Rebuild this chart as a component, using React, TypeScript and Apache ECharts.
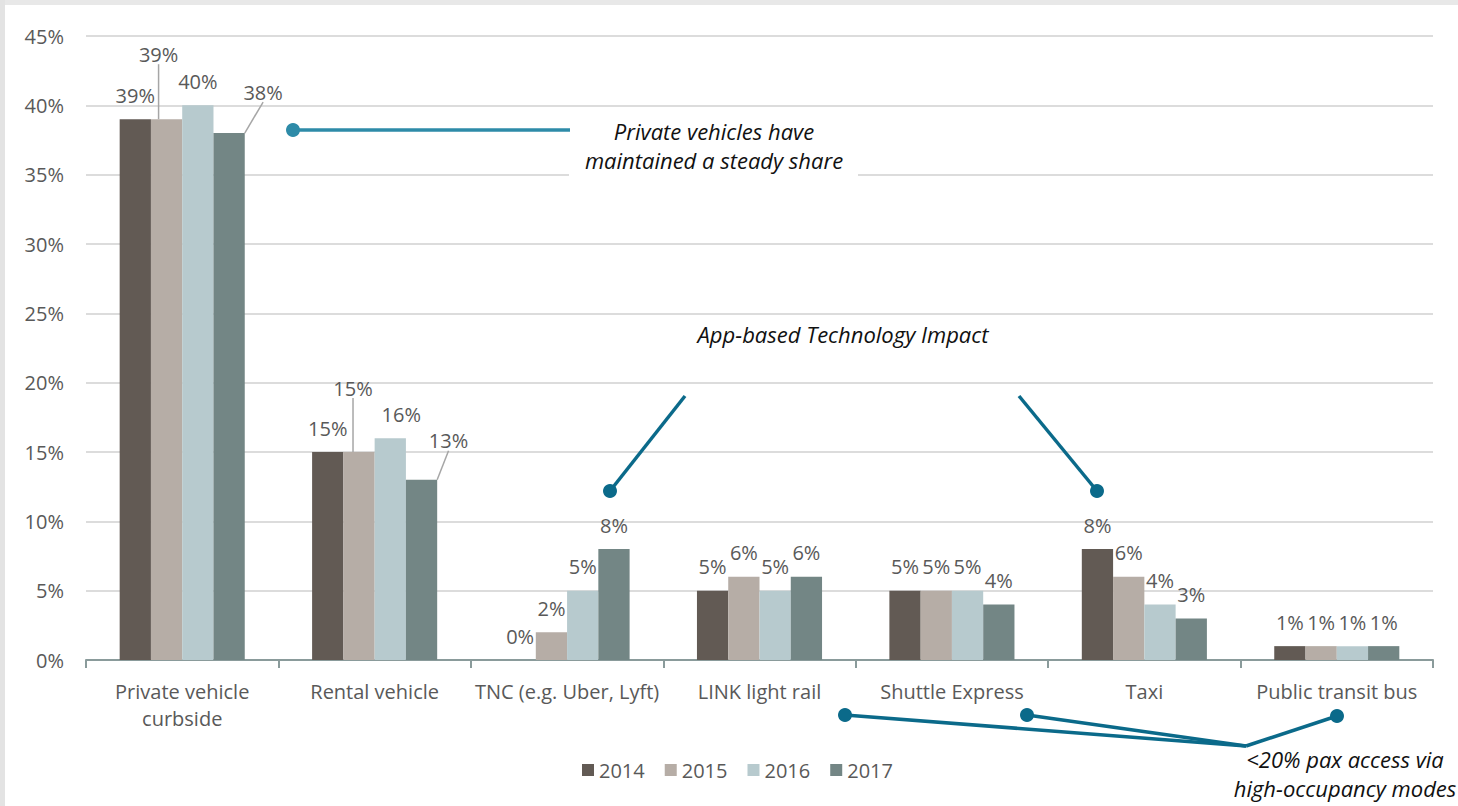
import React, { useEffect, useRef } from "react";
import * as echarts from "echarts";

const categories = [
  "Private vehicle\ncurbside",
  "Rental vehicle",
  "TNC (e.g. Uber, Lyft)",
  "LINK light rail",
  "Shuttle Express",
  "Taxi",
  "Public transit bus",
];
const years = ["2014", "2015", "2016", "2017"];
const share2014 = [39, 15, 0, 5, 5, 8, 1];
const share2015 = [39, 15, 2, 6, 5, 6, 1];
const share2016 = [40, 16, 5, 5, 5, 4, 1];
const share2017 = [38, 13, 8, 6, 4, 3, 1];
const yearColors = ["#625a54", "#b6ada6", "#b7cace", "#738685"];
const yMax = 45;
const yInterval = 5;

const noteSteady = "Private vehicles have\nmaintained a steady share";
const noteApp = "App-based Technology Impact";
const noteHigh = "<20% pax access via\nhigh-occupancy modes";

const FONT = "'Open Sans', 'Noto Sans', sans-serif";
const TEXT = "#595959";

// label shifts [dx, dy] keyed by "series-dataIndex"
const labelShift: Record<string, [number, number]> = {
  "1-0": [-8, -41],
  "3-0": [34, -17],
  "1-1": [-6, -40],
  "2-1": [11, 0],
  "3-1": [27, -15],
};

export default function App() {
  const ref = useRef<HTMLDivElement>(null);
  useEffect(() => {
    if (!ref.current) return;
    const chart = echarts.init(ref.current, undefined, { renderer: "svg" });
    const seriesData = [share2014, share2015, share2016, share2017];
    const teal = "#0b6a8a";
    const lightTeal = "#2e8ba8";
    const lw = 3.5;
    const dot = (cx: number, cy: number, color: string) => ({
      type: "circle",
      shape: { cx, cy, r: 7 },
      style: { fill: color },
      z: 100,
    });
    const line = (x1: number, y1: number, x2: number, y2: number, color: string) => ({
      type: "line",
      shape: { x1, y1, x2, y2 },
      style: { stroke: color, lineWidth: lw },
      z: 99,
    });
    const italic = {
      fontFamily: FONT,
      fontStyle: "italic",
      fontSize: 22,
      fill: "#111111",
      lineHeight: 29,
      align: "center",
      verticalAlign: "middle",
    };
    chart.setOption({
      animation: false,
      backgroundColor: "#ffffff",
      textStyle: { fontFamily: FONT },
      grid: { left: 86, right: 25, top: 36, bottom: 146, containLabel: false },
      legend: {
        data: years,
        bottom: 21,
        left: 577,
        itemWidth: 12,
        itemHeight: 12,
        itemGap: 20,
        icon: "rect",
        textStyle: { fontFamily: FONT, fontSize: 20, color: TEXT, padding: [0, 0, 0, 0] },
      },
      xAxis: {
        type: "category",
        data: categories,
        axisLine: { lineStyle: { color: "#8a9b9b", width: 2 } },
        axisTick: { show: true, length: 8, lineStyle: { color: "#8a9b9b", width: 2 } },
        axisLabel: {
          fontFamily: FONT,
          fontSize: 20,
          color: TEXT,
          margin: 18,
          lineHeight: 27,
          interval: 0,
        },
      },
      yAxis: {
        type: "value",
        min: 0,
        max: yMax,
        interval: yInterval,
        axisLine: { show: false },
        axisTick: { show: false },
        axisLabel: {
          formatter: "{value}%",
          fontFamily: FONT,
          fontSize: 20,
          color: TEXT,
          margin: 22,
        },
        splitLine: { lineStyle: { color: "#dcdcdc", width: 2 } },
      },
      series: seriesData.map((vals, si) => ({
        name: years[si],
        type: "bar",
        barGap: "0%",
        barCategoryGap: "35%",
        itemStyle: { color: yearColors[si] },
        label: {
          show: true,
          position: "top",
          distance: 14,
          formatter: "{c}%",
          fontFamily: FONT,
          fontSize: 20,
          color: TEXT,
        },
        labelLayout: (p: any) => {
          const s = labelShift[`${si}-${p.dataIndex}`];
          return s ? { dx: s[0], dy: s[1] } : {};
        },
        data: vals.map((v, di) => {
          const s = labelShift[`${si}-${di}`];
          const needLine = s && s[1] !== 0;
          return needLine
            ? {
                value: v,
                labelLine: { show: true, lineStyle: { color: "#a6a6a6", width: 1.5 } },
              }
            : { value: v };
        }),
      })),
      graphic: [
        { type: "rect", shape: { x: 0, y: 0, width: 1458, height: 5 }, style: { fill: "#e8e8e8" }, z: 200 },
        { type: "rect", shape: { x: 0, y: 0, width: 5, height: 806 }, style: { fill: "#e3e3e3" }, z: 200 },
        // steady share annotation
        { type: "rect", shape: { x: 569, y: 112, width: 289, height: 65 }, style: { fill: "#ffffff" }, z: 90 },
        line(293, 130, 570, 130, lightTeal),
        dot(293, 130, lightTeal),
        { type: "text", x: 714, y: 145, style: { ...italic, text: noteSteady }, z: 101 },
        // app-based annotation
        { type: "text", x: 843, y: 334, style: { ...italic, text: noteApp }, z: 101 },
        line(685, 396, 610, 491, teal),
        dot(610, 491, teal),
        line(1019, 396, 1097, 491, teal),
        dot(1097, 491, teal),
        // high occupancy annotation
        line(845, 715, 1246, 746, teal),
        line(1027, 715, 1246, 746, teal),
        line(1337, 716, 1246, 746, teal),
        dot(845, 715, teal),
        dot(1027, 715, teal),
        dot(1337, 716, teal),
        { type: "text", x: 1345, y: 773, style: { ...italic, text: noteHigh }, z: 101 },
      ],
    });
    return () => chart.dispose();
  }, []);
  return (
    <div
      ref={ref}
      style={{ position: "fixed", left: 0, top: 0, width: 1458, height: 806, background: "#fff" }}
    />
  );
}
